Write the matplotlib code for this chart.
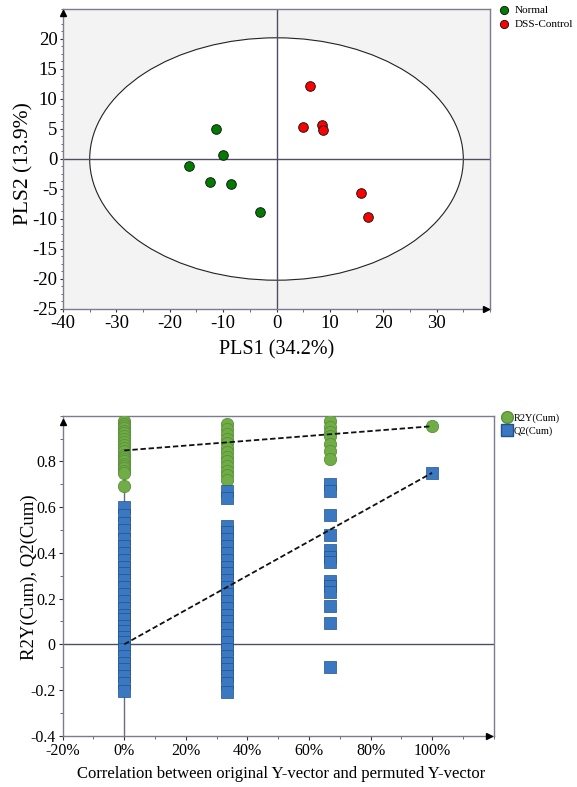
import matplotlib
matplotlib.use("Agg")
import matplotlib.pyplot as plt
from matplotlib.patches import Ellipse
from matplotlib.ticker import MultipleLocator, FuncFormatter
from matplotlib.lines import Line2D
import numpy as np

plt.rcParams['font.family'] = ['Liberation Serif', 'DejaVu Serif']
plt.rcParams['axes.unicode_minus'] = False

# ---------------- data: PLS-DA score plot ----------------
normal_x = [-11.3, -10.0, -16.4, -12.5, -8.5, -3.0]
normal_y = [5.0, 0.7, -1.1, -3.8, -4.1, -8.8]
dss_x = [6.2, 4.9, 8.6, 8.8, 15.8, 17.1]
dss_y = [12.2, 5.4, 5.7, 4.8, -5.7, -9.7]
ellipse_w = 70.0
ellipse_h = 40.4
score_xticks = [-40, -30, -20, -10, 0, 10, 20, 30]
score_yticks = [-25, -20, -15, -10, -5, 0, 5, 10, 15, 20]

# ---------------- data: permutation test ----------------
r2_x0 = [0.975, 0.965, 0.955, 0.945, 0.935, 0.925, 0.91, 0.90, 0.885, 0.87,
         0.86, 0.845, 0.83, 0.82, 0.81, 0.80, 0.79, 0.78, 0.77, 0.76, 0.75, 0.694]
q2_x0 = [0.60, 0.567, 0.53, 0.50, 0.46, 0.43, 0.40, 0.37, 0.34, 0.31, 0.28,
         0.25, 0.22, 0.19, 0.16, 0.13, 0.11, 0.08, 0.06, 0.03, 0.01, -0.02,
         -0.05, -0.08, -0.11, -0.14, -0.17, -0.205]
r2_x33 = [0.962, 0.94, 0.92, 0.90, 0.88, 0.86, 0.84, 0.82, 0.80, 0.78, 0.76, 0.74, 0.72]
q2_x33 = [0.67, 0.64, 0.517, 0.49, 0.46, 0.43, 0.40, 0.37, 0.34, 0.31, 0.28,
          0.25, 0.22, 0.19, 0.16, 0.13, 0.10, 0.07, 0.04, 0.01, -0.02, -0.05,
          -0.08, -0.11, -0.14, -0.17, -0.207]
r2_x67 = [0.976, 0.95, 0.93, 0.91, 0.875, 0.845, 0.81]
q2_x67 = [0.70, 0.672, 0.564, 0.476, 0.414, 0.384, 0.358, 0.279, 0.253,
          0.228, 0.168, 0.095, -0.10]
r2_orig = 0.954
q2_orig = 0.75
corr_levels = [0.0, 1/3, 2/3, 1.0]
r2_intercept = 0.848
q2_intercept = 0.0
perm_xticks = [-0.2, 0.0, 0.2, 0.4, 0.6, 0.8, 1.0]
perm_yticks = [-0.4, -0.2, 0.0, 0.2, 0.4, 0.6, 0.8]

W, H = 577, 787
fig = plt.figure(figsize=(W / 100, H / 100), dpi=100)

spine_col = '#7c7c90'
zero_col = '#4d4d66'

# ================= top chart =================
ax1 = fig.add_axes([63 / W, 1 - 309 / H, 427 / W, 300 / H])
ax1.set_facecolor('#f3f3f3')
ax1.add_patch(Ellipse((0, 0), ellipse_w, ellipse_h, facecolor='white',
                      edgecolor='#222222', lw=0.8, zorder=1))
ax1.axhline(0, color=zero_col, lw=1.0, zorder=1.5)
ax1.axvline(0, color=zero_col, lw=1.0, zorder=1.5)
ax1.scatter(normal_x, normal_y, s=48, c='#007d00', edgecolors='#1a1a1a',
            linewidths=0.7, zorder=3, label='Normal')
ax1.scatter(dss_x, dss_y, s=48, c='#ff0000', edgecolors='#1a1a1a',
            linewidths=0.7, zorder=3, label='DSS-Control')
ax1.set_xlim(-40, 40)
ax1.set_ylim(-25, 25)
ax1.set_xticks(score_xticks)
ax1.set_yticks(score_yticks)
ax1.xaxis.set_minor_locator(MultipleLocator(5))
ax1.yaxis.set_minor_locator(MultipleLocator(1.25))
ax1.tick_params(axis='both', which='major', labelsize=13.5, direction='out',
                length=2.5, width=0.8, color='#333333', pad=1.5)
ax1.tick_params(axis='both', which='minor', direction='out', length=1.8,
                width=0.6, color='#555555')
for sp in ax1.spines.values():
    sp.set_color(spine_col)
    sp.set_linewidth(1.0)
ax1.set_xlabel('PLS1 (34.2%)', fontsize=14.5)
ax1.set_ylabel('PLS2 (13.9%)', fontsize=15.5)
ax1.xaxis.set_label_coords(0.5, -0.105)
ax1.yaxis.set_label_coords(-0.068, 0.485)
ax1.plot([0], [0.985], marker='^', color='black', ms=4, transform=ax1.transAxes, clip_on=False, zorder=5)
ax1.plot([0.99], [0], marker='>', color='black', ms=4, transform=ax1.transAxes, clip_on=False, zorder=5)
ax1.legend(loc='upper left', bbox_to_anchor=(1.01, 1.028), frameon=False,
           fontsize=8, handletextpad=0.45, labelspacing=0.38, borderaxespad=0,
           handlelength=1.0, markerscale=0.85)

# ================= bottom chart =================
ax2 = fig.add_axes([62.7 / W, 1 - 735.7 / H, 431 / W, 320 / H])
ax2.axhline(0, color=zero_col, lw=1.0, zorder=1)
ax2.axvline(0, color='#6a6a80', lw=1.0, zorder=1)
green = '#70ad47'
green_e = '#5b8f3a'
blue = '#3a78c2'
blue_e = '#24508a'
ax2.scatter([corr_levels[0]] * len(r2_x0), r2_x0, s=78, marker='o', c=green,
            edgecolors=green_e, linewidths=0.6, zorder=3)
ax2.scatter([corr_levels[1]] * len(r2_x33), r2_x33, s=78, marker='o', c=green,
            edgecolors=green_e, linewidths=0.6, zorder=3)
ax2.scatter([corr_levels[2]] * len(r2_x67), r2_x67, s=78, marker='o', c=green,
            edgecolors=green_e, linewidths=0.6, zorder=3)
ax2.scatter([corr_levels[3]], [r2_orig], s=78, marker='o', c=green,
            edgecolors=green_e, linewidths=0.6, zorder=3)
ax2.scatter([corr_levels[0]] * len(q2_x0), q2_x0, s=70, marker='s', c=blue,
            edgecolors=blue_e, linewidths=0.5, zorder=3)
ax2.scatter([corr_levels[1]] * len(q2_x33), q2_x33, s=70, marker='s', c=blue,
            edgecolors=blue_e, linewidths=0.5, zorder=3)
ax2.scatter([corr_levels[2]] * len(q2_x67), q2_x67, s=70, marker='s', c=blue,
            edgecolors=blue_e, linewidths=0.5, zorder=3)
ax2.scatter([corr_levels[3]], [q2_orig], s=70, marker='s', c=blue,
            edgecolors=blue_e, linewidths=0.5, zorder=3)
ax2.plot([0, 1], [r2_intercept, r2_orig], ls=(0, (3, 1.5)), color='#111111', lw=1.3, zorder=4)
ax2.plot([0, 1], [q2_intercept, q2_orig], ls=(0, (3, 1.5)), color='#111111', lw=1.3, zorder=4)
ax2.set_xlim(-0.2, 1.2)
ax2.set_ylim(-0.4, 1.0)
ax2.set_xticks(perm_xticks)
ax2.set_yticks(perm_yticks)
ax2.xaxis.set_minor_locator(MultipleLocator(0.1))
ax2.yaxis.set_minor_locator(MultipleLocator(0.1))
ax2.xaxis.set_major_formatter(FuncFormatter(lambda v, p: f'{v*100:.0f}%'))
ax2.yaxis.set_major_formatter(FuncFormatter(lambda v, p: '0' if abs(v) < 1e-9 else f'{v:.1f}'))
ax2.tick_params(axis='both', which='major', labelsize=11.5, direction='out',
                length=3, width=0.8, color='#333333', pad=2)
ax2.tick_params(axis='both', which='minor', direction='out', length=2,
                width=0.6, color='#555555')
for sp in ax2.spines.values():
    sp.set_color(spine_col)
    sp.set_linewidth(1.0)
ax2.set_xlabel('Correlation between original Y-vector and permuted Y-vector', fontsize=12)
ax2.set_ylabel('R2Y(Cum), Q2(Cum)', fontsize=13.5)
ax2.xaxis.set_label_coords(0.506, -0.095)
ax2.yaxis.set_label_coords(-0.058, 0.494)
ax2.plot([0], [0.98], marker='^', color='black', ms=4, transform=ax2.transAxes, clip_on=False, zorder=5)
ax2.plot([0.99], [0], marker='>', color='black', ms=4, transform=ax2.transAxes, clip_on=False, zorder=5)
handles = [Line2D([], [], ls='none', marker='o', ms=8.5, mfc=green, mec=green_e),
           Line2D([], [], ls='none', marker='s', ms=8, mfc=blue, mec=blue_e)]
ax2.legend(handles, ['R2Y(Cum)', 'Q2(Cum)'], loc='upper left',
           bbox_to_anchor=(1.008, 1.02), frameon=False, fontsize=7.5,
           handletextpad=0.15, labelspacing=0.35, borderaxespad=0, handlelength=1.0)

fig.savefig('out.png', dpi=100)
